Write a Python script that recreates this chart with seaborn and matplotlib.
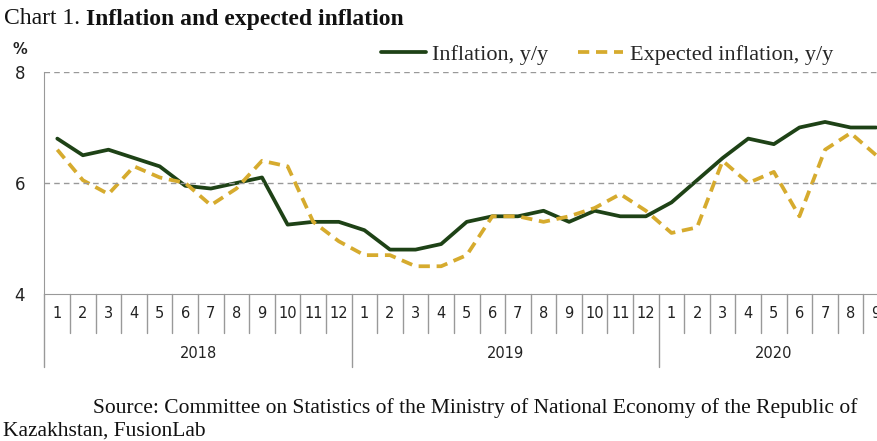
import numpy as np
import pandas as pd
import matplotlib
matplotlib.use("Agg")
import matplotlib.pyplot as plt
import seaborn as sns

# monthly data, Jan 2018 .. Sep 2020
years = ["2018", "2019", "2020"]
months_per_year = [12, 12, 9]
month_labels = [str(m) for n in months_per_year for m in range(1, n + 1)]

inflation = [6.8, 6.5, 6.6, 6.45, 6.3, 5.95, 5.9, 6.0, 6.1, 5.25, 5.3, 5.3,
             5.15, 4.8, 4.8, 4.9, 5.3, 5.4, 5.4, 5.5, 5.3, 5.5, 5.4, 5.4,
             5.65, 6.05, 6.45, 6.8, 6.7, 7.0, 7.1, 7.0, 7.0]
expected = [6.6, 6.05, 5.8, 6.3, 6.1, 6.0, 5.6, 5.9, 6.4, 6.3, 5.3, 4.95,
            4.7, 4.7, 4.5, 4.5, 4.7, 5.4, 5.4, 5.3, 5.4, 5.55, 5.8, 5.5,
            5.1, 5.2, 6.4, 6.0, 6.2, 5.4, 6.6, 6.9, 6.5]

df = pd.DataFrame({
    "idx": np.arange(len(month_labels)),
    "Inflation, y/y": inflation,
    "Expected inflation, y/y": expected,
})
long = df.melt(id_vars="idx", var_name="series", value_name="value")

sns.set_style("white")
plt.rcParams["font.family"] = ["DejaVu Sans"]

fig = plt.figure(figsize=(8.78, 4.41), dpi=100)
ax = fig.add_axes([44.5 / 878, 1 - 294 / 441, (889 - 44.5) / 878, 222 / 441])

green = "#1e4216"
gold = "#d6ab2e"
dash = (0, (3.0, 1.8))
sns.lineplot(data=long, x="idx", y="value", hue="series", style="series",
             palette={"Inflation, y/y": green, "Expected inflation, y/y": gold},
             dashes={"Inflation, y/y": "", "Expected inflation, y/y": (3.0, 1.8)},
             linewidth=2.7, legend=False, ax=ax)

ax.set_xlim(-0.5, len(month_labels) - 0.5)
ax.set_ylim(4, 8)
ax.set_xlabel("")
ax.set_ylabel("")

# y axis
ax.set_yticks([4, 6, 8])
ax.set_yticklabels(["4", "6", "8"], fontsize=12, color="#222222")
ax.tick_params(axis="y", length=5, color="#999999", width=1, pad=9)
for y in [6, 8]:
    ax.axhline(y, color="#999999", lw=1, ls=(0, (4, 3)))
ax.set_xticks([])

for side in ["top", "right"]:
    ax.spines[side].set_visible(False)
ax.spines["left"].set_color("#999999")
ax.spines["bottom"].set_color("#999999")

# category axis: month row and year row
tr = ax.get_xaxis_transform()
n = len(month_labels)
for i, lab in enumerate(month_labels):
    ax.text(i, -0.09, lab, transform=tr, ha="center", va="center",
            fontsize=10.5, color="#222222", clip_on=False)
year_starts = np.cumsum([0] + months_per_year[:-1])
for i in range(1, n):
    low = -0.329 if i in year_starts else -0.176
    ax.plot([i - 0.5, i - 0.5], [0, low], transform=tr, color="#999999",
            lw=1, clip_on=False)
ax.plot([-0.5, -0.5], [0, -0.329], transform=tr, color="#999999", lw=1,
        clip_on=False)
for y0, cnt, yr in zip(year_starts, months_per_year, years):
    ax.text(y0 + (cnt - 1) / 2, -0.266, yr, transform=tr, ha="center",
            va="center", fontsize=10.5, color="#222222", clip_on=False)

# "%" label
fig.text(20 / 878, 1 - 50 / 441, "%", ha="center", va="center",
         fontsize=10.5, fontweight="bold", color="#222222")

# legend (top)
serif = ["Liberation Serif", "DejaVu Serif"]
handles = [plt.Line2D([], [], color=green, lw=2.7),
           plt.Line2D([], [], color=gold, lw=2.7, ls=dash)]
fig.legend(handles, ["Inflation, y/y", "Expected inflation, y/y"],
           loc="center", bbox_to_anchor=(607 / 878, 1 - 55 / 441), ncol=2,
           frameon=False, prop={"family": serif, "size": 16},
           handlelength=2.0, columnspacing=1.35, handletextpad=0.3,
           borderpad=0)

# title
t1 = fig.text(4 / 878, 1 - 19 / 441, "Chart 1. ", ha="left", va="center",
              fontsize=17, family=serif, color="#111111")
fig.canvas.draw()
bb = t1.get_window_extent()
fig.text(bb.x1 / 878, 1 - 19 / 441, "Inflation and expected inflation",
         ha="left", va="center", fontsize=17, family=serif,
         fontweight="bold", color="#111111")

# source
fig.text(93 / 878, 1 - 408 / 441,
         "Source: Committee on Statistics of the Ministry of National Economy of the Republic of",
         ha="left", va="center", fontsize=15.5, family=serif, color="#111111")
fig.text(3 / 878, 1 - 431 / 441, "Kazakhstan, FusionLab", ha="left",
         va="center", fontsize=15.5, family=serif, color="#111111")

fig.savefig("out.png", dpi=100)
